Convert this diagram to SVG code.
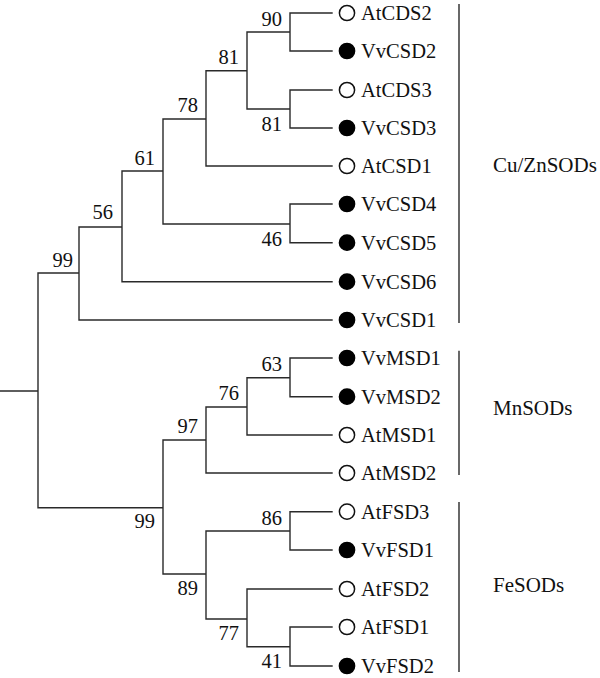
<svg xmlns="http://www.w3.org/2000/svg" width="600" height="678" viewBox="0 0 600 678">
<style>
.e{stroke:#2a2a2a;stroke-width:1.4;fill:none;stroke-linecap:square}
.b{stroke:#2a2a2a;stroke-width:1.4;fill:none}
text{font-family:"Liberation Serif","Times New Roman",serif;font-size:20.5px;fill:#111}
.bs{text-anchor:end}
.g{font-size:21px}
.o{fill:#fff;stroke:#111;stroke-width:1.5}
.f{fill:#000;stroke:#000;stroke-width:1.5}
</style>
<rect width="600" height="678" fill="#fff"/>
<g id="connectors">
<path class="e" d="M0,391H38M38,273V507.7M38,273H79M38,507.7H163
M79,227V320M79,227H122M79,320H332
M122,171V281.7M122,171H163M122,281.7H332
M163,119V224M163,119H206M163,224H290
M206,70.7V166M206,70.7H247M206,166H332
M247,32V109M247,32H290M247,109H290
M290,13V51M290,13H332M290,51H332
M290,90V128M290,90H332M290,128H332
M290,204V242.7M290,204H332M290,242.7H332
M163,440V574M163,440H206M163,574H206
M206,407V473M206,407H247M206,473H332
M247,377.7V435M247,377.7H290M247,435H332
M290,358V396.7M290,358H332M290,396.7H332
M206,531V619M206,531H290M206,619H247
M290,511.7V550M290,511.7H332M290,550H332
M247,589V646.7M247,589H332M247,646.7H290
M290,627V666M290,627H332M290,666H332"/>
<path class="b" d="M459,4V323M459,350.7V475M459,502V672"/>
</g>
<g id="bootstrap">
<text class="bs" x="282" y="26">90</text>
<text class="bs" x="239" y="64">81</text>
<text class="bs" x="282" y="131">81</text>
<text class="bs" x="198" y="112">78</text>
<text class="bs" x="155" y="165">61</text>
<text class="bs" x="113" y="219">56</text>
<text class="bs" x="282" y="246">46</text>
<text class="bs" x="73" y="267">99</text>
<text class="bs" x="282" y="371">63</text>
<text class="bs" x="239" y="400">76</text>
<text class="bs" x="198" y="433">97</text>
<text class="bs" x="155" y="528">99</text>
<text class="bs" x="282" y="525">86</text>
<text class="bs" x="198" y="595">89</text>
<text class="bs" x="239" y="640">77</text>
<text class="bs" x="282" y="668">41</text>
</g>
<g id="leaf-AtCDS2"><circle class="o" cx="347" cy="13" r="7.6"/><text x="361" y="20">AtCDS2</text></g>
<g id="leaf-VvCSD2"><circle class="f" cx="347" cy="51" r="7.6"/><text x="361" y="58">VvCSD2</text></g>
<g id="leaf-AtCDS3"><circle class="o" cx="347" cy="90" r="7.6"/><text x="361" y="97">AtCDS3</text></g>
<g id="leaf-VvCSD3"><circle class="f" cx="347" cy="128" r="7.6"/><text x="361" y="135">VvCSD3</text></g>
<g id="leaf-AtCSD1"><circle class="o" cx="347" cy="166" r="7.6"/><text x="361" y="173">AtCSD1</text></g>
<g id="leaf-VvCSD4"><circle class="f" cx="347" cy="204" r="7.6"/><text x="361" y="211">VvCSD4</text></g>
<g id="leaf-VvCSD5"><circle class="f" cx="347" cy="242.7" r="7.6"/><text x="361" y="249.7">VvCSD5</text></g>
<g id="leaf-VvCSD6"><circle class="f" cx="347" cy="281.7" r="7.6"/><text x="361" y="288.7">VvCSD6</text></g>
<g id="leaf-VvCSD1"><circle class="f" cx="347" cy="320" r="7.6"/><text x="361" y="327">VvCSD1</text></g>
<g id="leaf-VvMSD1"><circle class="f" cx="347" cy="358" r="7.6"/><text x="361" y="365">VvMSD1</text></g>
<g id="leaf-VvMSD2"><circle class="f" cx="347" cy="396.7" r="7.6"/><text x="361" y="403.7">VvMSD2</text></g>
<g id="leaf-AtMSD1"><circle class="o" cx="347" cy="435" r="7.6"/><text x="361" y="442">AtMSD1</text></g>
<g id="leaf-AtMSD2"><circle class="o" cx="347" cy="473" r="7.6"/><text x="361" y="480">AtMSD2</text></g>
<g id="leaf-AtFSD3"><circle class="o" cx="347" cy="511.7" r="7.6"/><text x="361" y="518.7">AtFSD3</text></g>
<g id="leaf-VvFSD1"><circle class="f" cx="347" cy="550" r="7.6"/><text x="361" y="557">VvFSD1</text></g>
<g id="leaf-AtFSD2"><circle class="o" cx="347" cy="589" r="7.6"/><text x="361" y="596">AtFSD2</text></g>
<g id="leaf-AtFSD1"><circle class="o" cx="347" cy="627" r="7.6"/><text x="361" y="634">AtFSD1</text></g>
<g id="leaf-VvFSD2"><circle class="f" cx="347" cy="666" r="7.6"/><text x="361" y="673">VvFSD2</text></g>
<g id="group-CuZn"><text class="g" x="493" y="172">Cu/ZnSODs</text></g>
<g id="group-Mn"><text class="g" x="493" y="415">MnSODs</text></g>
<g id="group-Fe"><text class="g" x="493" y="592">FeSODs</text></g>
</svg>
